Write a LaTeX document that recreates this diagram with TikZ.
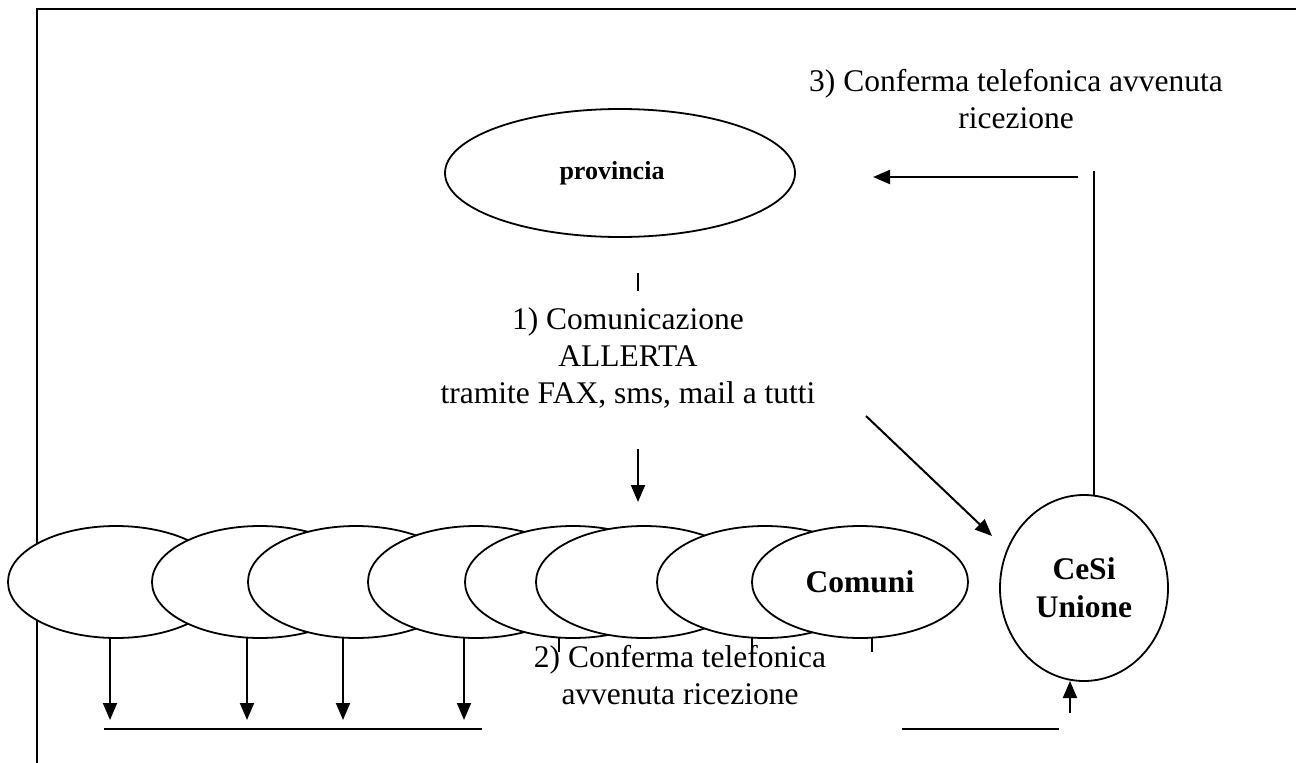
\documentclass[tikz,border=0pt]{standalone}
\usepackage{fontspec}
\setmainfont{Liberation Serif}
\usetikzlibrary{shapes.geometric,arrows.meta}
\begin{document}
\begin{tikzpicture}[x=1pt,y=-1pt,
  oval/.style={ellipse,draw,fill=white,line width=1.8pt,inner sep=0pt},
  bigtxt/.style={font=\fontsize{31.5}{37}\selectfont,align=center,inner sep=0pt},
  conn/.style={line width=2pt},
  arr/.style={conn,-{Triangle[length=17pt,width=14pt]}}]
\useasboundingbox (0,0) rectangle (1296,763);
\fill[white] (0,0) rectangle (1296,763);
% frame
\coordinate (fA) at (37,763);
\coordinate (fB) at (37,9);
\coordinate (fC) at (1296,9);
\draw[line width=1.6pt] (fA) -- (fB);
\draw[line width=2.5pt] ([xshift=-0.8pt]fB) -- (fC);
% provincia
\node[oval,minimum width=350pt,minimum height=128pt,font=\bfseries\fontsize{26}{30}\selectfont] (prov) at (620,173) {\hspace*{-16pt}provincia};
% step 1
\coordinate (t1a) at (638,273);
\coordinate (t1b) at (638,291);
\draw[conn] (t1a) -- (t1b);
\node[bigtxt] (msg1) at (628,358) {1) Comunicazione\\ALLERTA\\tramite FAX, sms, mail a tutti};
\coordinate (d1a) at (638,449);
\coordinate (d1b) at (638,502);
\draw[arr] (d1a) -- (d1b);
\coordinate (g1a) at (866,416);
\coordinate (g1b) at (992,536);
\draw[arr] (g1a) -- (g1b);
% comuni
\foreach \x [count=\i] in {116,260,356,476,573,644,765}{
  \node[oval,minimum width=216pt,minimum height=112pt] (c\i) at (\x,582) {};
}
\node[oval,minimum width=216pt,minimum height=112pt,font=\bfseries\fontsize{31.5}{37}\selectfont] (c8) at (860,582) {Comuni};
% CeSi
\node[oval,minimum width=168pt,minimum height=186pt,align=center,font=\bfseries\fontsize{31.5}{38}\selectfont] (cesi) at (1084,588) {CeSi\\Unione};
% step 2
\foreach \x [count=\i] in {110,247,343,464}{
  \coordinate (aa\i) at (\x,638);
  \coordinate (ab\i) at (\x,720);
  \draw[arr] (aa\i) -- (ab\i);
}
\foreach \x [count=\i] in {559,752,872}{
  \coordinate (ta\i) at (\x,638);
  \coordinate (tb\i) at (\x,652);
  \draw[conn] (ta\i) -- (tb\i);
}
\coordinate (b1a) at (104,729);
\coordinate (b1b) at (482,729);
\draw[conn] (b1a) -- (b1b);
\coordinate (b2a) at (902,729);
\coordinate (b2b) at (1059,729);
\draw[conn] (b2a) -- (b2b);
\coordinate (u1a) at (1070,713);
\coordinate (u1b) at (1070,681);
\draw[arr] (u1a) -- (u1b);
\node[bigtxt] (msg2) at (680,675) {2) Conferma telefonica\\avvenuta ricezione};
% step 3
\coordinate (v3a) at (1094,495);
\coordinate (v3b) at (1094,171);
\draw[conn] (v3a) -- (v3b);
\coordinate (h3a) at (1078,177);
\coordinate (h3b) at (873,177);
\draw[arr] (h3a) -- (h3b);
\node[bigtxt] (msg3) at (1016,99) {3) Conferma telefonica avvenuta\\ricezione};
\end{tikzpicture}
\end{document}
